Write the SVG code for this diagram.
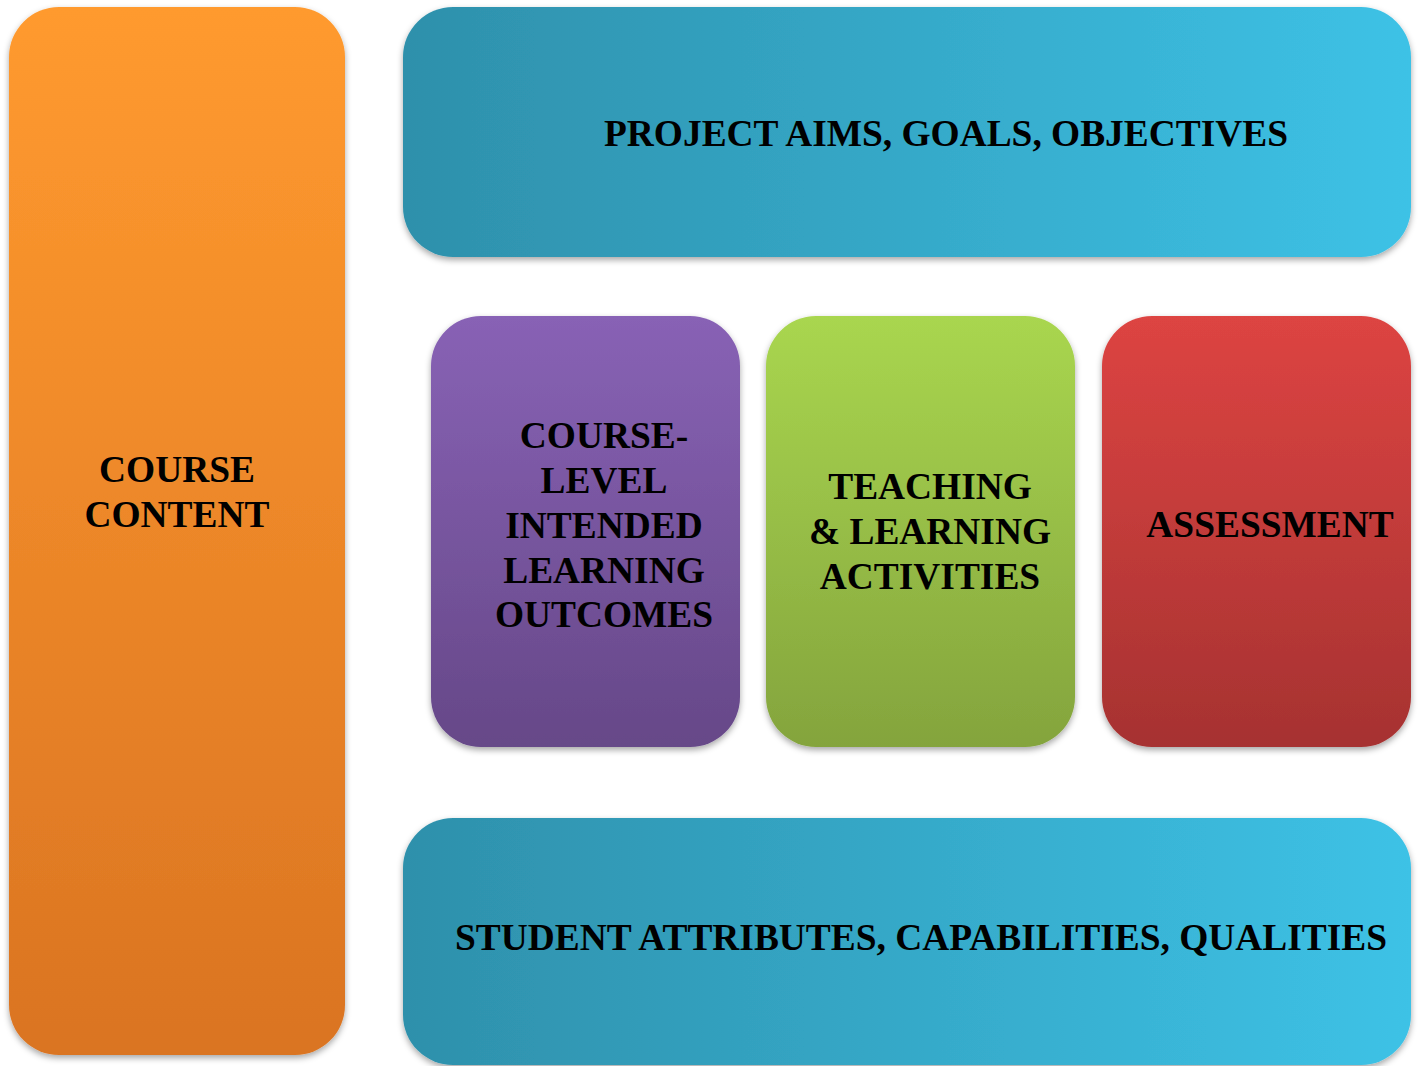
<svg xmlns="http://www.w3.org/2000/svg" width="1421" height="1066" viewBox="0 0 1421 1066">
<defs>
<linearGradient id="gOrange" x1="0" y1="0" x2="0" y2="1">
<stop offset="0" stop-color="#FF9A2F"/><stop offset="1" stop-color="#DA7422"/>
</linearGradient>
<linearGradient id="gTeal" x1="0" y1="0" x2="1" y2="0">
<stop offset="0" stop-color="#2E90AB"/><stop offset="1" stop-color="#3DC2E6"/>
</linearGradient>
<linearGradient id="gPurple" x1="0" y1="0" x2="0" y2="1">
<stop offset="0" stop-color="#8862B5"/><stop offset="1" stop-color="#664888"/>
</linearGradient>
<linearGradient id="gGreen" x1="0" y1="0" x2="0" y2="1">
<stop offset="0" stop-color="#A9D64F"/><stop offset="1" stop-color="#84A43D"/>
</linearGradient>
<linearGradient id="gRed" x1="0" y1="0" x2="0" y2="1">
<stop offset="0" stop-color="#DD4442"/><stop offset="1" stop-color="#A63231"/>
</linearGradient>
<filter id="sh" x="-10%" y="-10%" width="120%" height="120%">
<feDropShadow dx="0" dy="3" stdDeviation="3" flood-color="#000" flood-opacity="0.35"/>
</filter>
</defs>
<style>
.box{filter:url(#sh);}
.t{font-family:"Liberation Serif","Times New Roman",serif;font-weight:bold;font-size:37.4px;fill:#000;text-anchor:middle;}
</style>
<g id="course-content">
<rect class="box" x="9" y="7" width="336" height="1048" rx="50" fill="url(#gOrange)"/>
<text class="t" x="177" y="482">COURSE</text>
<text class="t" x="177" y="527">CONTENT</text>
</g>
<g id="project-aims">
<rect class="box" x="403" y="7" width="1008" height="250" rx="50" fill="url(#gTeal)"/>
<text class="t" x="946" y="146">PROJECT AIMS, GOALS, OBJECTIVES</text>
</g>
<g id="learning-outcomes">
<rect class="box" x="431" y="316" width="309" height="431" rx="50" fill="url(#gPurple)"/>
<text class="t" x="604" y="448">COURSE-</text>
<text class="t" x="604" y="493">LEVEL</text>
<text class="t" x="604" y="538">INTENDED</text>
<text class="t" x="604" y="583">LEARNING</text>
<text class="t" x="604" y="627">OUTCOMES</text>
</g>
<g id="teaching-learning">
<rect class="box" x="766" y="316" width="309" height="431" rx="50" fill="url(#gGreen)"/>
<text class="t" x="930" y="499">TEACHING</text>
<text class="t" x="930" y="544">&amp; LEARNING</text>
<text class="t" x="930" y="589">ACTIVITIES</text>
</g>
<g id="assessment">
<rect class="box" x="1102" y="316" width="309" height="431" rx="50" fill="url(#gRed)"/>
<text class="t" x="1270" y="537">ASSESSMENT</text>
</g>
<g id="student-attributes">
<rect class="box" x="403" y="818" width="1008" height="247" rx="50" fill="url(#gTeal)"/>
<text class="t" x="921" y="950">STUDENT ATTRIBUTES, CAPABILITIES, QUALITIES</text>
</g>
<g id="connectors"></g>
</svg>
